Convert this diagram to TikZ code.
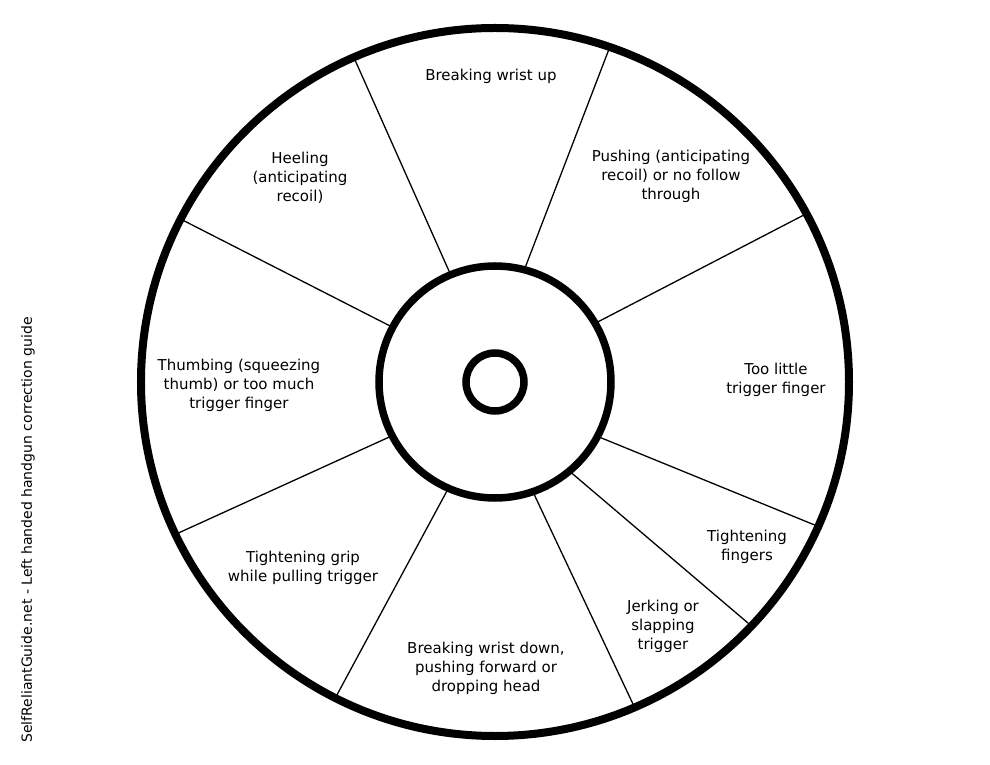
\documentclass[tikz,border=0pt]{standalone}
\usepackage{fontspec}
\setmainfont{DejaVu Sans}
\usepackage{tikz}
\usetikzlibrary{positioning}

\begin{document}
\begin{tikzpicture}[x=1pt, y=1pt,
  every node/.style={font=\fontsize{15}{19}\selectfont, align=center, inner sep=0pt},
  rim/.style={line width=8pt},
  hub/.style={line width=7.5pt},
  spoke/.style={line width=1.3pt}]
\useasboundingbox (-495,-383) rectangle (495,382);

% wheel
\draw[rim] (0,0) circle (354);
\draw[hub] (0,0) circle (116);
\draw[hub] (0,0) circle (29);
\coordinate (c) at (0,0);

% spokes
\draw[spoke] (112.5:119) -- (113.5:351);
\draw[spoke] (75.2:119) -- (71.1:351);
\draw[spoke] (30.3:119) -- (28.4:351);
\draw[spoke] (-27.8:119) -- (-24.1:351);
\draw[spoke] (-49.9:119) -- (-43.6:351);
\draw[spoke] (-70.8:119) -- (-66.8:351);
\draw[spoke] (-113.8:119) -- (-116.8:351);
\draw[spoke] (-152.5:119) -- (-154.5:351);
\draw[spoke] (151.9:119) -- (152.6:351);

% labels
\node (wristup) at (-4,306) {Breaking wrist up};
\node (pushing) at (176,206) {Pushing (anticipating\\recoil) or no follow\\through};
\node (toolittle) at (281,2) {Too little\\trigger finger};
\node (tightfingers) at (252,-165) {Tightening\\fingers};
\node (jerking) at (168,-244) {Jerking or\\slapping\\trigger};
\node (wristdown) at (-9,-286) {Breaking wrist down,\\pushing forward or\\dropping head};
\node (tightgrip) at (-192,-186) {Tightening grip\\while pulling trigger};
\node (thumbing) at (-256,-3) {Thumbing (squeezing\\thumb) or too much\\trigger finger};
\node (heeling) at (-195,204) {Heeling\\(anticipating\\recoil)};

\node[rotate=90, font=\fontsize{14}{17}\selectfont] (credit) at (-467,-148) {SelfReliantGuide.net - Left handed handgun correction guide};
\end{tikzpicture}
\end{document}
